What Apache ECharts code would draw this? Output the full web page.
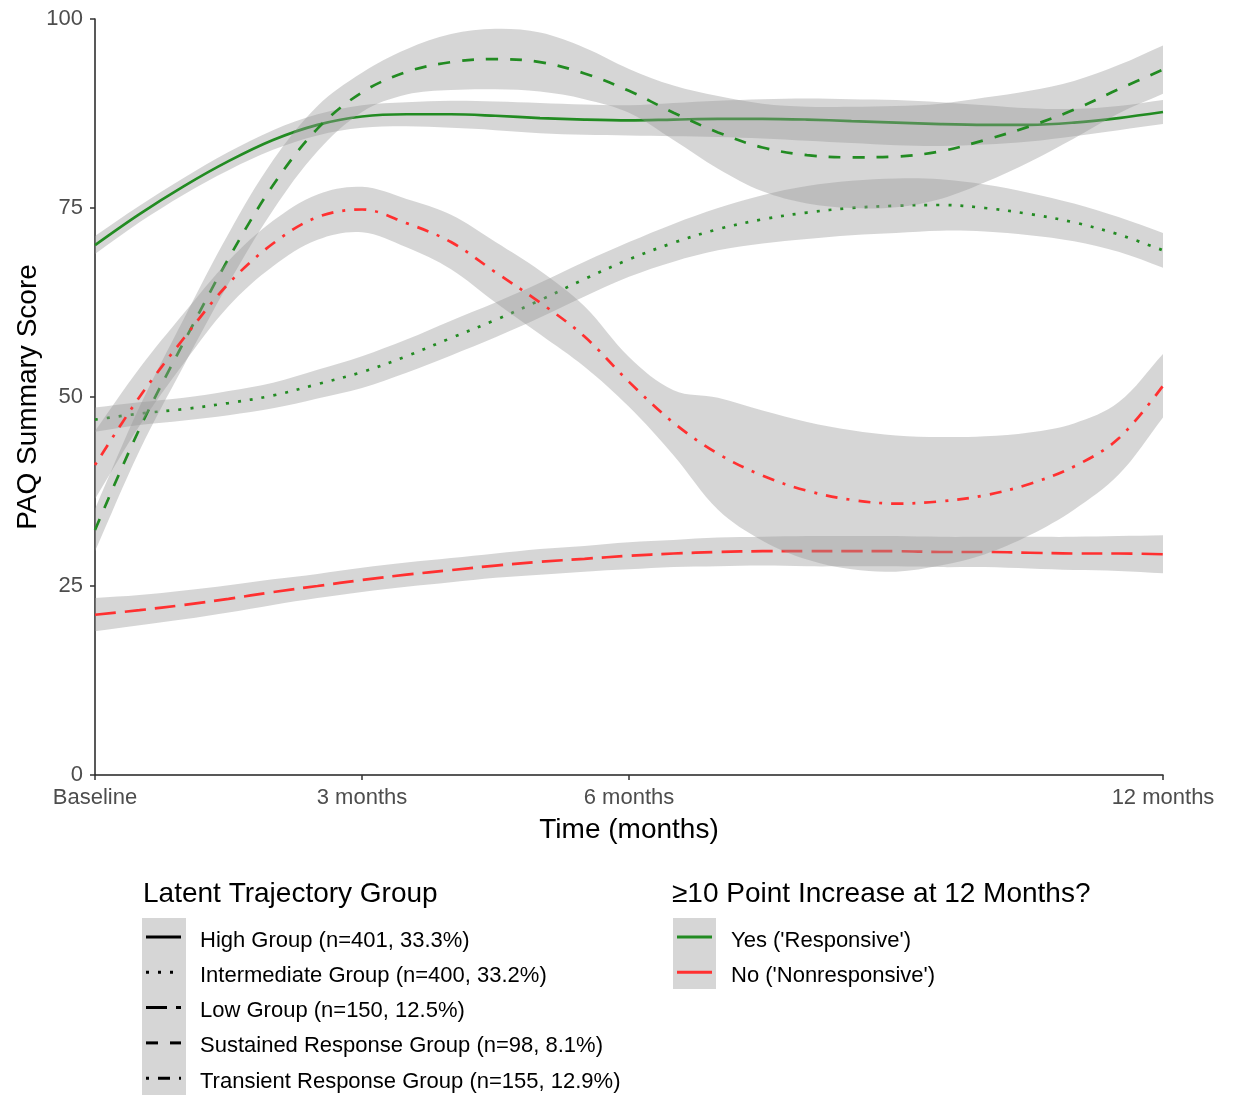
<!DOCTYPE html>
<html>
<head>
<meta charset="utf-8">
<script src="https://cdn.jsdelivr.net/npm/echarts@6/dist/echarts.min.js"></script>
<style>
html,body{margin:0;padding:0;background:#fff;}
#c{width:1233px;height:1095px;}
</style>
</head>
<body>
<div id="c"></div>
<script>
// ---------- data ----------
const months = [0,0.5,1,1.5,2,2.5,3,3.5,4,4.5,5,5.5,6,6.5,7,7.5,8,8.5,9,9.5,10,10.5,11,11.5,12];
const xTickValues = [0,3,6,12];
const xTickLabels = ['Baseline','3 months','6 months','12 months'];
const yMin = 0, yMax = 100, yStep = 25;

const groupNames = [
  'High Group (n=401, 33.3%)',
  'Intermediate Group (n=400, 33.2%)',
  'Low Group (n=150, 12.5%)',
  'Sustained Response Group (n=98, 8.1%)',
  'Transient Response Group (n=155, 12.9%)'
];
const responseNames = ["Yes ('Responsive')", "No ('Nonresponsive')"];

const high         = [70.1,74.2,77.9,81.2,84.0,86.0,87.1,87.4,87.4,87.2,86.9,86.7,86.6,86.7,86.8,86.8,86.7,86.5,86.3,86.1,86.0,86.0,86.3,86.9,87.7];
const highCI       = [1.2,1.1,1.1,1.2,1.3,1.4,1.5,1.6,1.8,1.9,2.0,2.0,2.0,2.2,2.4,2.6,2.8,2.9,3.0,2.9,2.6,2.2,1.8,1.6,1.6];
const intermediate = [47.0,47.8,48.4,49.2,50.2,51.7,53.3,55.4,57.8,60.2,62.8,65.6,68.2,70.4,72.2,73.5,74.4,75.0,75.3,75.4,75.0,74.2,73.1,71.5,69.4];
const intermediateCI=[1.6,1.5,1.5,1.6,1.7,1.9,2.1,2.2,2.3,2.3,2.3,2.3,2.3,2.5,2.8,3.2,3.5,3.6,3.6,3.4,3.1,2.8,2.5,2.3,2.3];
const low          = [21.2,21.8,22.5,23.3,24.2,25.0,25.8,26.5,27.1,27.7,28.2,28.6,29.0,29.3,29.5,29.6,29.6,29.6,29.6,29.5,29.5,29.4,29.3,29.3,29.2];
const lowCI        = [2.2,2.0,1.9,1.8,1.7,1.6,1.6,1.6,1.6,1.6,1.7,1.7,1.8,1.8,1.9,1.9,2.0,2.0,2.0,2.0,2.0,2.1,2.2,2.3,2.5];
const sustained    = [32.4,45.8,57.3,68.3,78.0,85.5,90.3,93.0,94.3,94.7,94.3,92.8,90.5,87.6,85.0,83.0,82.0,81.7,81.8,82.5,84.0,85.8,88.0,90.7,93.3];
const sustainedCI  = [2.8,2.9,3.1,3.3,3.3,3.0,2.6,3.0,3.7,4.0,3.9,3.4,2.9,3.6,4.8,5.8,6.4,6.7,6.7,6.3,5.6,4.7,3.8,3.2,3.2];
const transient    = [41.0,50.0,57.8,65.0,70.3,73.8,74.8,73.0,70.5,66.5,62.5,58.0,52.0,46.6,42.5,39.6,37.6,36.4,35.9,36.2,37.0,38.5,40.8,44.5,51.5];
const transientCI  = [4.5,3.8,3.3,3.0,3.0,3.0,3.0,3.2,3.6,4.0,4.2,4.0,3.3,4.3,7.4,8.6,9.1,9.2,9.0,8.5,7.8,6.8,5.7,4.8,4.2];

// ---------- styles ----------
const GREEN = '#228B22', RED = '#FF3030';
const BAND = 'rgba(153,153,153,0.4)';
const FONT = '"Liberation Sans", Arial, Helvetica, sans-serif';
const dashes = {
  solid: null,
  dotted: [3, 9],
  longdash: [21, 9],
  dashed: [12, 12],
  dotdash: [3, 9, 12, 9]
};

const groups = [
  {fit: high, ci: highCI, color: GREEN, dash: dashes.solid},
  {fit: intermediate, ci: intermediateCI, color: GREEN, dash: dashes.dotted},
  {fit: low, ci: lowCI, color: RED, dash: dashes.longdash},
  {fit: sustained, ci: sustainedCI, color: GREEN, dash: dashes.dashed},
  {fit: transient, ci: transientCI, color: RED, dash: dashes.dotdash}
];

function bandSeries(g, idx) {
  return {
    type: 'custom',
    z: 2 * idx + 1,
    silent: true,
    animation: false,
    data: [[0]],
    renderItem: function (params, api) {
      const up = months.map((m, i) => api.coord([m, g.fit[i] + g.ci[i]]));
      const lo = months.map((m, i) => api.coord([m, g.fit[i] - g.ci[i]])).reverse();
      const pts = [up[0]].concat(up, [up[up.length - 1]], [lo[0]], lo, [lo[lo.length - 1]]);
      return {
        type: 'polygon',
        shape: {points: pts, smooth: 0.35},
        style: {fill: BAND, stroke: null}
      };
    }
  };
}

function lineSeries(g, idx) {
  return {
    type: 'line',
    z: 2 * idx + 2,
    silent: true,
    animation: false,
    symbol: 'none',
    showSymbol: false,
    smooth: 0.35,
    data: months.map((m, i) => [m, g.fit[i]]),
    lineStyle: {color: g.color, width: 2.7, type: g.dash ? g.dash : 'solid', cap: 'butt'}
  };
}

const series = [];
groups.forEach((g, i) => { series.push(bandSeries(g, i)); series.push(lineSeries(g, i)); });

// ---------- legend via graphic ----------
const graphic = [];
const rowH = 35.3;
graphic.push({type: 'text', left: 143, top: 880, style: {text: 'Latent Trajectory Group', fontSize: 28, fontFamily: FONT, fill: '#000'}});
graphic.push({type: 'rect', shape: {x: 142, y: 918, width: 44, height: 177}, style: {fill: '#D6D6D6'}});
groupNames.forEach((name, i) => {
  const y = 937 + rowH * i;
  graphic.push({type: 'line', shape: {x1: 146, y1: y, x2: 181, y2: y},
    style: {stroke: '#000', lineWidth: 3, lineDash: groups[i].dash || null, lineCap: 'butt'}});
  graphic.push({type: 'text', x: 200, y: y + 3.5,
    style: {text: name, fontSize: 22, fontFamily: FONT, fill: '#000', verticalAlign: 'middle', align: 'left'}});
});
graphic.push({type: 'text', left: 672, top: 880, style: {text: '\u226510 Point Increase at 12 Months?', fontSize: 28, fontFamily: FONT, fill: '#000'}});
graphic.push({type: 'rect', shape: {x: 673, y: 918, width: 43, height: 71}, style: {fill: '#D6D6D6'}});
[GREEN, RED].forEach((c, i) => {
  const y = 937 + rowH * i;
  graphic.push({type: 'line', shape: {x1: 677, y1: y, x2: 712, y2: y}, style: {stroke: c, lineWidth: 3}});
  graphic.push({type: 'text', x: 731, y: y + 3.5,
    style: {text: responseNames[i], fontSize: 22, fontFamily: FONT, fill: '#000', verticalAlign: 'middle', align: 'left'}});
});

const chart = echarts.init(document.getElementById('c'), null, {renderer: 'canvas'});
chart.setOption({
  animation: false,
  backgroundColor: '#fff',
  textStyle: {fontFamily: FONT},
  grid: {left: 95, right: 70, top: 19, bottom: 320, containLabel: false, outerBoundsMode: 'none'},
  xAxis: {
    type: 'value', min: 0, max: 12,
    name: 'Time (months)', nameLocation: 'middle', nameGap: 41, nameMoveOverlap: false,
    nameTextStyle: {fontSize: 28, color: '#000', fontFamily: FONT},
    axisLine: {show: true, onZero: false, lineStyle: {color: '#222', width: 1.5}},
    axisTick: {show: true, customValues: xTickValues, length: 5, lineStyle: {color: '#333', width: 1.5}},
    axisLabel: {
      customValues: xTickValues, margin: 12, fontSize: 22, color: '#4D4D4D', fontFamily: FONT,
      formatter: function (v) { const k = xTickValues.indexOf(v); return k >= 0 ? xTickLabels[k] : ''; }
    },
    splitLine: {show: false}
  },
  yAxis: {
    type: 'value', min: yMin, max: yMax, interval: yStep,
    name: 'PAQ Summary Score', nameLocation: 'middle', nameGap: 53, nameMoveOverlap: false,
    nameTextStyle: {fontSize: 28, color: '#000', fontFamily: FONT},
    axisLine: {show: true, onZero: false, lineStyle: {color: '#222', width: 1.5}},
    axisTick: {show: true, length: 5, lineStyle: {color: '#333', width: 1.5}},
    axisLabel: {margin: 12, fontSize: 22, color: '#4D4D4D', fontFamily: FONT},
    splitLine: {show: false}
  },
  series: series,
  graphic: graphic
});
</script>
</body>
</html>
